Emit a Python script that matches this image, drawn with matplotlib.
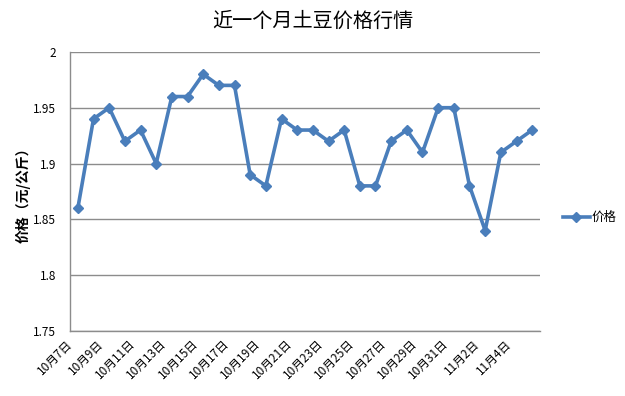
import matplotlib
matplotlib.use("Agg")
import matplotlib.pyplot as plt
import matplotlib.transforms as mtransforms
from matplotlib.lines import Line2D

plt.rcParams['font.family'] = ['Noto Sans CJK SC', 'DejaVu Sans']

dates = ["10月7日", "10月8日", "10月9日", "10月10日", "10月11日", "10月12日", "10月13日",
         "10月14日", "10月15日", "10月16日", "10月17日", "10月18日", "10月19日", "10月20日",
         "10月21日", "10月22日", "10月23日", "10月24日", "10月25日", "10月26日", "10月27日",
         "10月28日", "10月29日", "10月30日", "10月31日", "11月1日", "11月2日", "11月3日",
         "11月4日", "11月5日"]
prices = [1.86, 1.94, 1.95, 1.92, 1.93, 1.90, 1.96, 1.96, 1.98, 1.97, 1.97, 1.89, 1.88,
          1.94, 1.93, 1.93, 1.92, 1.93, 1.88, 1.88, 1.92, 1.93, 1.91, 1.95, 1.95, 1.88,
          1.84, 1.91, 1.92, 1.93]
yticks = [1.75, 1.8, 1.85, 1.9, 1.95, 2.0]
ytick_labels = ["1.75", "1.8", "1.85", "1.9", "1.95", "2"]

color = "#4A7EBB"
grid_color = "#8C8C8C"

fig = plt.figure(figsize=(6.25, 3.96), dpi=100)
ax = fig.add_axes([0.112, 0.164, 0.752, 0.705])

x = list(range(len(dates)))
ax.plot(x, prices, color=color, linewidth=2.6, marker="D", markersize=5.5,
        markerfacecolor=color, markeredgecolor=color, zorder=3)

ax.set_xlim(-0.5, len(dates) - 0.5)
ax.set_ylim(1.75, 2.0)
ax.set_yticks(yticks)
ax.set_yticklabels(ytick_labels, fontsize=8.5)
ax.set_xticks(x[::2])
ax.set_xticklabels(dates[::2], fontsize=8.5, rotation=45, ha="right",
                   rotation_mode="anchor")
ax.tick_params(axis="both", length=0)
ax.tick_params(axis="x", pad=4.5)
ax.tick_params(axis="y", pad=10)

offset = mtransforms.ScaledTranslation(-0.12, 0, fig.dpi_scale_trans)
for lbl in ax.get_xticklabels():
    lbl.set_transform(lbl.get_transform() + offset)

ax.yaxis.grid(True, color=grid_color, linewidth=1)
ax.set_axisbelow(True)
for s in ["top", "right"]:
    ax.spines[s].set_visible(False)
for s in ["left", "bottom"]:
    ax.spines[s].set_color(grid_color)
    ax.spines[s].set_linewidth(1)

ax.set_ylabel("价格（元/公斤）", fontsize=10, fontweight="bold", labelpad=2)

fig.text(0.5, 0.945, "近一个月土豆价格行情", fontsize=14.5, ha="center", va="center")

handle = Line2D([], [], color=color, linewidth=2.6, marker="D", markersize=5.5)
fig.legend([handle], ["价格"], loc="center left", bbox_to_anchor=(0.882, 0.45),
           frameon=False, fontsize=9, handlelength=2.2, handletextpad=0.1)

fig.savefig("out.png", dpi=100)
